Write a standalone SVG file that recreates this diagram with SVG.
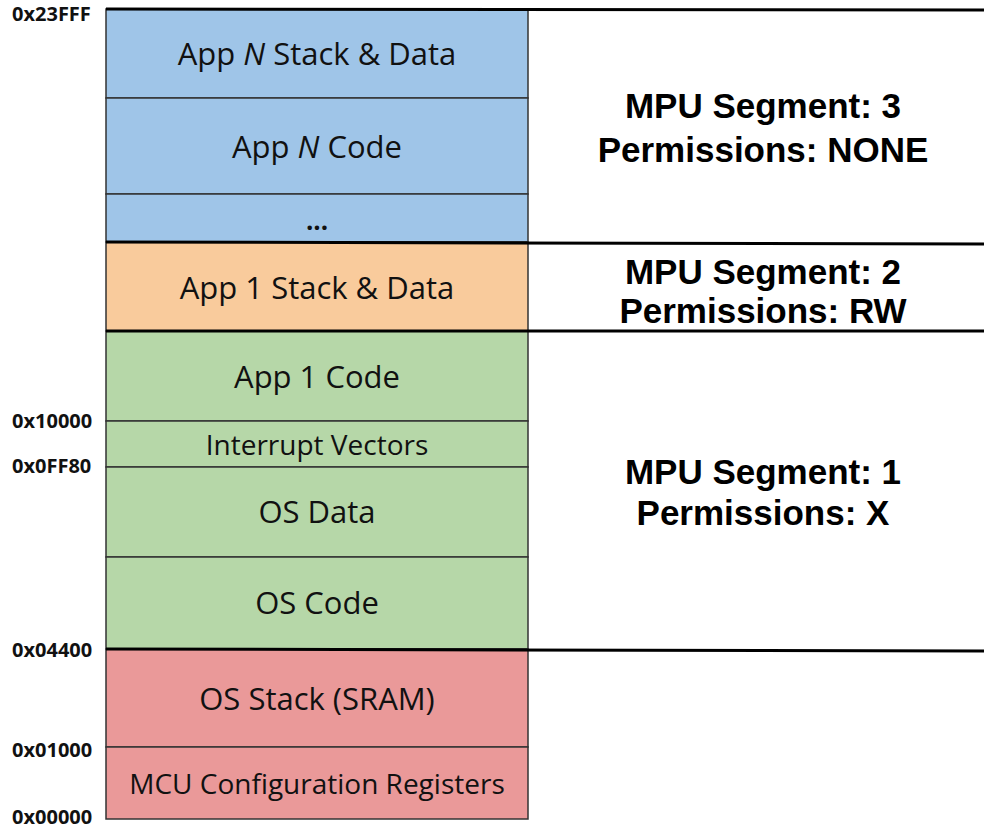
<svg xmlns="http://www.w3.org/2000/svg" width="984" height="829" viewBox="0 0 984 829">
<style>
.blk{stroke:#333;stroke-width:1.5}
.blue{fill:#9fc5e8}.orange{fill:#f9cb9c}.green{fill:#b6d7a8}.red{fill:#ea9999}
.t{font-family:"Open Sans","Noto Sans",sans-serif;font-size:31px;fill:#111;text-anchor:middle}
.ts{font-size:28px}
.addr{font-family:"Noto Sans","Open Sans",sans-serif;font-weight:bold;font-size:20px;fill:#111}
.mpu{font-family:"Liberation Sans",Arial,sans-serif;font-weight:bold;font-size:35px;fill:#000;text-anchor:middle}
.div{stroke:#000;stroke-width:3;fill:none}
</style>
<rect width="984" height="829" fill="#fff"/>
<g id="appN-stack"><rect class="blk blue" x="106" y="9" width="422" height="89"/><text class="t" x="317" y="65">App <tspan font-style="italic">N</tspan> Stack &amp; Data</text></g>
<g id="appN-code"><rect class="blk blue" x="106" y="98" width="422" height="96"/><text class="t" x="317" y="158">App <tspan font-style="italic">N</tspan> Code</text></g>
<g id="ellipsis"><rect class="blk blue" x="106" y="194" width="422" height="48"/><text class="t" x="317" y="230" style="font-size:26px;font-weight:bold">...</text></g>
<g id="app1-stack"><rect class="blk orange" x="106" y="242" width="422" height="89"/><text class="t" x="317" y="299">App 1 Stack &amp; Data</text></g>
<g id="app1-code"><rect class="blk green" x="106" y="331" width="422" height="90"/><text class="t" x="317" y="388">App 1 Code</text></g>
<g id="interrupt-vectors"><rect class="blk green" x="106" y="421" width="422" height="46"/><text class="t ts" x="317" y="455">Interrupt Vectors</text></g>
<g id="os-data"><rect class="blk green" x="106" y="467" width="422" height="90"/><text class="t" x="317" y="523">OS Data</text></g>
<g id="os-code"><rect class="blk green" x="106" y="557" width="422" height="92"/><text class="t" x="317" y="614">OS Code</text></g>
<g id="os-stack"><rect class="blk red" x="106" y="649" width="422" height="98"/><text class="t" x="317" y="710">OS Stack (SRAM)</text></g>
<g id="mcu-config"><rect class="blk red" x="106" y="747" width="422" height="72"/><text class="t ts" x="317" y="794">MCU Configuration Registers</text></g>
<g id="addresses">
<text class="addr" x="12" y="21">0x23FFF</text>
<text class="addr" x="12" y="428">0x10000</text>
<text class="addr" x="12" y="473">0x0FF80</text>
<text class="addr" x="12" y="657">0x04400</text>
<text class="addr" x="12" y="757">0x01000</text>
<text class="addr" x="12" y="824">0x00000</text>
</g>
<g id="connectors">
<line class="div" x1="106" y1="9" x2="984" y2="10"/>
<line class="div" x1="106" y1="242" x2="984" y2="244"/>
<line class="div" x1="106" y1="331" x2="984" y2="331"/>
<line class="div" x1="106" y1="649" x2="984" y2="651"/>
</g>
<g id="segment3"><text class="mpu" x="763" y="118">MPU Segment: 3</text><text class="mpu" x="763" y="162">Permissions: NONE</text></g>
<g id="segment2"><text class="mpu" x="763" y="284">MPU Segment: 2</text><text class="mpu" x="763" y="323">Permissions: RW</text></g>
<g id="segment1"><text class="mpu" x="763" y="484">MPU Segment: 1</text><text class="mpu" x="763" y="525">Permissions: X</text></g>
</svg>
